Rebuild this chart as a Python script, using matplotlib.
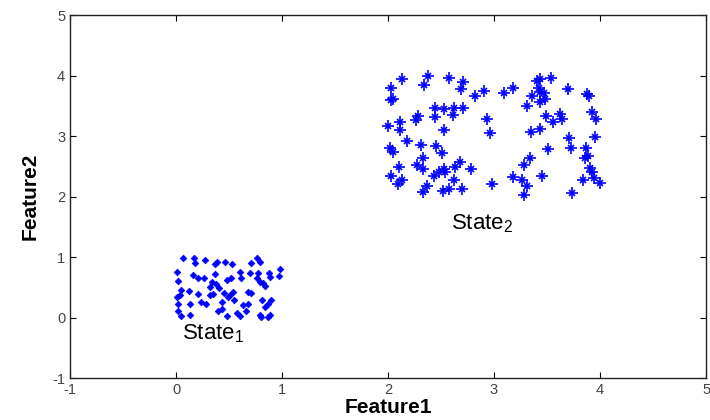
import numpy as np
import matplotlib.pyplot as plt

plt.rcParams['font.family'] = ['Liberation Sans', 'DejaVu Sans']
plt.rcParams['mathtext.default'] = 'regular'
plt.rcParams['axes.unicode_minus'] = False

# State 1 samples (diamonds)
state1_x = [0.07, 0.17, 0.27, 0.37, 0.39, 0.46, 0.18, 0.01, 0.16, 0.21,
            0.26, 0.37, 0.02, 0.34, 0.38, 0.32, 0.48, 0.12, 0.04, 0.01,
            0.21, 0.35, 0.45, 0.13, 0.24, 0.28, 0.02, 0.02, 0.13, 0.43,
            0.40, 0.05, 0.49, 0.43, 0.76, 0.79, 0.71, 0.60, 0.70, 0.76,
            0.79, 0.82, 0.84, 0.88, 0.98, 0.97, 0.52, 0.61, 0.54, 0.51,
            0.68, 0.71, 0.55, 0.63, 0.68, 0.87, 0.90, 0.84, 0.58, 0.66,
            0.79, 0.80, 0.53, 0.77, 0.89, 0.41, 0.05, 0.32, 0.81, 0.48,
            0.60, 0.87, 0.89]
state1_y = [0.99, 0.99, 0.95, 0.88, 0.92, 0.91, 0.90, 0.76, 0.70, 0.65,
            0.66, 0.72, 0.61, 0.59, 0.55, 0.50, 0.62, 0.44, 0.37, 0.34,
            0.39, 0.39, 0.40, 0.22, 0.26, 0.23, 0.22, 0.10, 0.04, 0.14,
            0.10, 0.03, 0.34, 0.26, 0.99, 0.92, 0.90, 0.76, 0.73, 0.65,
            0.59, 0.57, 0.52, 0.74, 0.80, 0.69, 0.65, 0.65, 0.43, 0.37,
            0.43, 0.40, 0.29, 0.21, 0.23, 0.23, 0.29, 0.17, 0.07, 0.10,
            0.04, 0.01, 0.88, 0.74, 0.67, 0.48, 0.46, 0.37, 0.29, 0.03,
            0.02, 0.01, 0.04]

# State 2 samples (asterisks)
state2_x = [2.13, 2.38, 2.58, 2.71, 2.03, 2.34, 2.69, 2.82, 2.91, 2.03,
            2.05, 2.44, 2.53, 2.62, 2.71, 2.28, 2.26, 2.44, 2.61, 2.93,
            2.00, 2.11, 2.11, 2.53, 2.96, 3.43, 3.41, 3.54, 3.09, 3.18,
            3.42, 3.43, 3.47, 3.36, 3.48, 3.43, 3.70, 3.88, 3.90, 3.31,
            3.49, 3.56, 3.62, 3.64, 3.92, 3.96, 3.43, 3.35, 2.18, 2.31,
            2.45, 2.51, 2.02, 2.05, 2.33, 2.10, 2.27, 2.33, 2.48, 2.53,
            2.54, 2.63, 2.68, 2.78, 2.43, 2.03, 2.13, 2.09, 2.62, 2.37,
            2.33, 2.52, 2.58, 2.70, 2.98, 3.71, 3.95, 3.51, 3.73, 3.87,
            3.89, 3.86, 3.34, 3.28, 3.91, 3.92, 3.45, 3.18, 3.26, 3.84,
            3.94, 4.00, 3.31, 3.28, 3.74]
state2_y = [3.94, 4.00, 3.96, 3.89, 3.79, 3.84, 3.78, 3.67, 3.74, 3.60,
            3.61, 3.47, 3.45, 3.47, 3.47, 3.34, 3.26, 3.32, 3.35, 3.28,
            3.17, 3.23, 3.10, 3.10, 3.05, 3.94, 3.91, 3.96, 3.72, 3.79,
            3.80, 3.73, 3.71, 3.67, 3.61, 3.57, 3.78, 3.69, 3.67, 3.50,
            3.34, 3.24, 3.36, 3.29, 3.39, 3.28, 3.12, 3.06, 2.92, 2.85,
            2.83, 2.72, 2.80, 2.73, 2.64, 2.49, 2.52, 2.45, 2.41, 2.45,
            2.40, 2.49, 2.57, 2.45, 2.34, 2.34, 2.27, 2.21, 2.28, 2.17,
            2.07, 2.10, 2.12, 2.12, 2.21, 2.96, 2.99, 2.78, 2.80, 2.80,
            2.67, 2.63, 2.64, 2.52, 2.47, 2.41, 2.34, 2.32, 2.28, 2.27,
            2.31, 2.23, 2.18, 2.02, 2.06]

ticks = [-1, 0, 1, 2, 3, 4, 5]

fig = plt.figure(figsize=(7.1, 4.2), dpi=100)
ax = fig.add_axes([0.0986, 0.1, 0.8958, 0.864])

ax.plot(state1_x, state1_y, 'D', color='#0000ff', markersize=3.4,
        markeredgewidth=0.5)
ax.plot(state2_x, state2_y, '+', color='#0000ff', markersize=8.5,
        markeredgewidth=1.2)
ax.plot(state2_x, state2_y, 'x', color='#0000ff', markersize=4.5,
        markeredgewidth=1.2)

ax.text(0.06, -0.37, 'State$_1$', fontsize=16, va='baseline', ha='left')
ax.text(2.59, 1.45, 'State$_2$', fontsize=16, va='baseline', ha='left')

ax.set_xlim(-1, 5)
ax.set_ylim(-1, 5)
ax.set_xticks(ticks)
ax.set_yticks(ticks)
ax.tick_params(direction='in', length=4, width=0.8, labelsize=10.5,
               labelcolor='#444444', top=True, right=True)
for s in ax.spines.values():
    s.set_linewidth(1.0)
    s.set_color('#222222')

ax.set_xlabel('Feature1', fontsize=15, fontweight='bold', labelpad=1)
ax.set_ylabel('Feature2', fontsize=15, fontweight='bold', labelpad=9)

plt.savefig('out.png', dpi=100)
